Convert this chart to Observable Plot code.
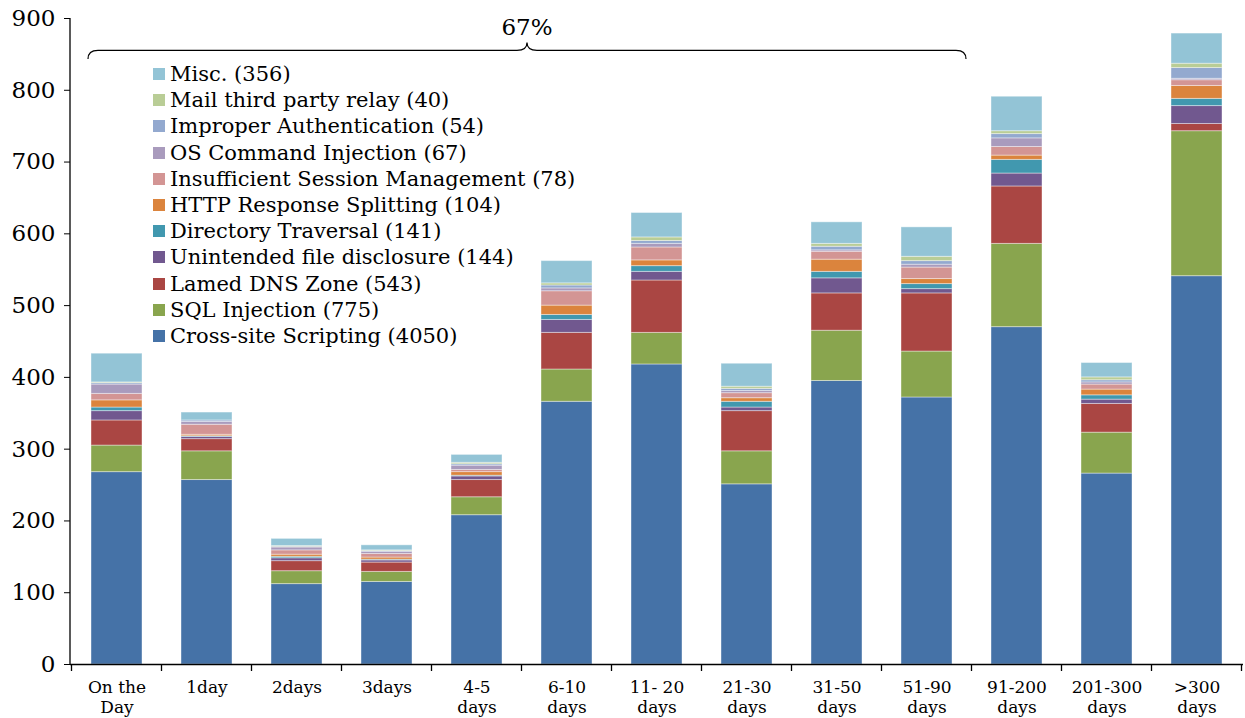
<!DOCTYPE html>
<html><head><meta charset="utf-8">
<script src="https://cdn.jsdelivr.net/npm/d3@7"></script>
<script src="https://cdn.jsdelivr.net/npm/@observablehq/plot@0.6"></script>
<style>
body{margin:0;background:#fff;}
#wrap{position:relative;width:1245px;height:718px;font-family:"DejaVu Serif",serif;color:#000;}
#legend{position:absolute;left:153px;top:61px;}
.li{display:flex;align-items:center;height:26.2px;font-size:21px;white-space:nowrap;}
.sw{width:12px;height:12px;margin-right:5px;}
</style></head><body><div id="wrap"><div id="legend"></div></div>
<script>
const categories = ["On the\nDay","1day","2days","3days","4-5\ndays","6-10\ndays","11- 20\ndays","21-30\ndays","31-50\ndays","51-90\ndays","91-200\ndays","201-300\ndays",">300\ndays"];
const seriesNames = ["Cross-site Scripting (4050)","SQL Injection (775)","Lamed DNS Zone (543)","Unintended file disclosure (144)","Directory Traversal (141)","HTTP Response Splitting (104)","Insufficient Session Management (78)","OS Command Injection (67)","Improper Authentication (54)","Mail third party relay (40)","Misc. (356)"];
const seriesColors = ["#4572A7","#89A54E","#AA4643","#71588F","#4198AF","#DB843D","#D39594","#A99BBD","#93A9CF","#B9CD96","#93C4D6"];
const xss      = [268,257,112,115,208,366,418,251,395,372,470,266,541];
const sql      = [37,40,18,14,25,45,44,46,70,64,116,57,202];
const dns      = [35,17,14,13,24,51,73,56,52,81,80,40,10];
const unint    = [13,3,4,3,5,18,12,5,21,6,18,6,25];
const dirTrav  = [5,1,2,1,1,7,8,8,9,7,19,6,10];
const http     = [10,2,3,3,5,13,8,5,17,7,6,8,18];
const session  = [9,14,6,5,3,20,18,7,11,16,12,7,8];
const osCmd    = [13,4,4,3,6,4,5,3,2,4,12,3,2];
const improper = [2,2,1,1,2,4,4,3,5,5,6,3,15];
const mail     = [1,0,1,1,2,3,5,3,4,6,4,4,6];
const misc     = [40,11,10,7,11,31,34,32,30,41,48,20,42];
const yTicks = [0,100,200,300,400,500,600,700,800,900];
const braceLabel = "67%";
const braceSpan = [0, 9]; // first..last category index covered

const seriesValues = [xss,sql,dns,unint,dirTrav,http,session,osCmd,improper,mail,misc];
const rows = [];
seriesValues.forEach((vals, s) => vals.forEach((v, i) => rows.push({cat: categories[i], series: seriesNames[s], value: v})));

const plot = Plot.plot({
  width: 1245, height: 718,
  marginTop: 18, marginBottom: 54, marginLeft: 70, marginRight: 2,
  style: {fontFamily: "DejaVu Serif, serif", background: "white", color: "black"},
  x: {domain: categories, paddingInner: 0.43, paddingOuter: 0.215, label: null},
  y: {domain: [0, 900], label: null},
  color: {domain: seriesNames, range: seriesColors},
  marks: [
    Plot.barY(rows, {x: "cat", y: "value", fill: "series", stroke: "white", strokeOpacity: 0.4, strokeWidth: 1}),
    Plot.ruleY([0], {stroke: "black", strokeWidth: 1.3}),
    Plot.axisY({ticks: yTicks, tickSize: 6, tickPadding: 9, fontSize: 23, label: null}),
    Plot.axisX({tickSize: 0, tickPadding: 15, fontSize: 17, lineHeight: 1.15, label: null})
  ]
});
document.getElementById("wrap").prepend(plot);

// axis line, band-boundary ticks and brace drawn with the plot's own scales
const xs = plot.scale("x"), ys = plot.scale("y");
const svg = d3.select(plot);
const step = xs.step, bw = xs.bandwidth, gap = step - bw;
const y0 = ys.apply(0), yTop = ys.apply(900);
svg.append("line").attr("x1", xs.range[0]).attr("x2", xs.range[0]).attr("y1", yTop).attr("y2", y0).attr("stroke", "black").attr("stroke-width", 1.3);
const bounds = categories.map(c => xs.apply(c) - gap / 2);
bounds.push(xs.apply(categories[categories.length - 1]) + bw + gap / 2);
svg.append("g").selectAll("line").data(bounds).join("line")
  .attr("x1", d => d).attr("x2", d => d).attr("y1", y0).attr("y2", y0 + 7)
  .attr("stroke", "black").attr("stroke-width", 1.3);

const bx0 = xs.apply(categories[braceSpan[0]]) - 3;
const bx1 = xs.apply(categories[braceSpan[1]]) + bw + 14;
const bm = (bx0 + bx1) / 2;
const yEnd = ys.apply(843), yLine = ys.apply(855), yPeak = ys.apply(866);
const r = 10;
const path = `M${bx0},${yEnd} Q${bx0},${yLine} ${bx0 + r},${yLine} L${bm - r},${yLine} Q${bm},${yLine} ${bm},${yPeak} Q${bm},${yLine} ${bm + r},${yLine} L${bx1 - r},${yLine} Q${bx1},${yLine} ${bx1},${yEnd}`;
svg.append("path").attr("d", path).attr("fill", "none").attr("stroke", "black").attr("stroke-width", 1.2);
svg.append("text").attr("x", bm).attr("y", ys.apply(885)).attr("text-anchor", "middle").attr("dominant-baseline", "middle")
  .attr("font-size", 23).attr("font-family", "DejaVu Serif, serif").attr("fill", "black").text(braceLabel);

// legend (top entry = top of stack)
const leg = d3.select("#legend");
seriesNames.slice().reverse().forEach((n, k) => {
  const i = seriesNames.length - 1 - k;
  const row = leg.append("div").attr("class", "li");
  row.append("div").attr("class", "sw").style("background", seriesColors[i]);
  row.append("span").text(n);
});
</script></body></html>
